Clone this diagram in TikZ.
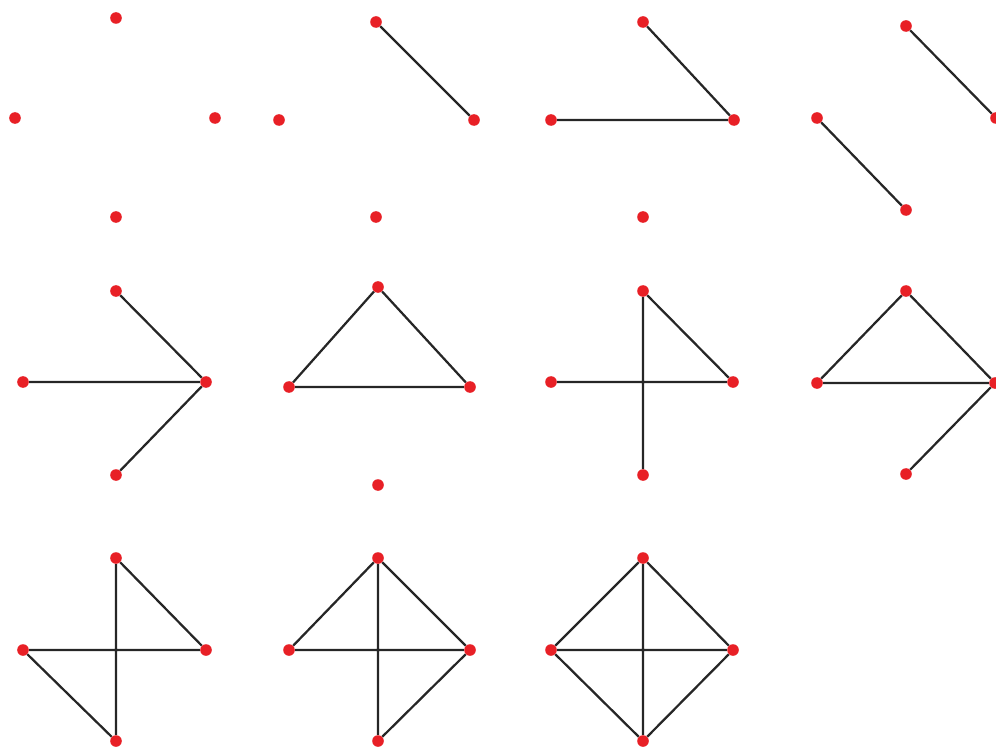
\documentclass[tikz,border=0pt]{standalone}
\usepackage{tikz}
\definecolor{vertexred}{RGB}{232,32,38}
\tikzset{
  vertex/.style={circle, fill=vertexred, inner sep=0pt, minimum size=0.29cm},
  edge/.style={draw=black!85, line width=1.6pt},
}
% the four vertices of one graph: name, top, left, right, bottom
\newcommand{\fourverts}[5]{%
  \node[vertex] (#1t) at (#2) {};
  \node[vertex] (#1l) at (#3) {};
  \node[vertex] (#1r) at (#4) {};
  \node[vertex] (#1b) at (#5) {};
}

\begin{document}
\begin{tikzpicture}[x=0.025cm, y=-0.025cm]
  \useasboundingbox (0,0) rectangle (996,749);

  % first row
  \fourverts{a}{116,18}{15,118}{215,118}{116,217}
  \fourverts{b}{376,22}{279,120}{474,120}{376,217}
  \fourverts{c}{643,22}{551,120}{734,120}{643,217}
  \fourverts{d}{906,26}{817,118}{996,118}{906,210}
  % second row
  \fourverts{e}{116,291}{23,382}{206,382}{116,475}
  \fourverts{f}{378,287}{289,387}{470,387}{378,485}
  \fourverts{g}{643,291}{551,382}{733,382}{643,475}
  \fourverts{h}{906,291}{817,383}{995,383}{906,474}
  % third row
  \fourverts{i}{116,558}{23,650}{206,650}{116,741}
  \fourverts{j}{378,558}{289,650}{470,650}{378,741}
  \fourverts{k}{643,558}{551,650}{733,650}{643,741}

  % edges
  \draw[edge] (bt) -- (br);
  \draw[edge] (ct) -- (cr) (cl) -- (cr);
  \draw[edge] (dt) -- (dr) (dl) -- (db);

  \draw[edge] (et) -- (er) (el) -- (er) (eb) -- (er);
  \draw[edge] (ft) -- (fl) -- (fr) -- (ft);
  \draw[edge] (gt) -- (gr) (gl) -- (gr) (gt) -- (gb);
  \draw[edge] (ht) -- (hl) -- (hr) -- (ht) (hb) -- (hr);

  \draw[edge] (it) -- (ir) (it) -- (ib) (il) -- (ir) (il) -- (ib);
  \draw[edge] (jt) -- (jl) (jt) -- (jr) (jt) -- (jb) (jl) -- (jr) (jr) -- (jb);
  \draw[edge] (kt) -- (kl) -- (kb) -- (kr) -- (kt) (kt) -- (kb) (kl) -- (kr);
\end{tikzpicture}
\end{document}
